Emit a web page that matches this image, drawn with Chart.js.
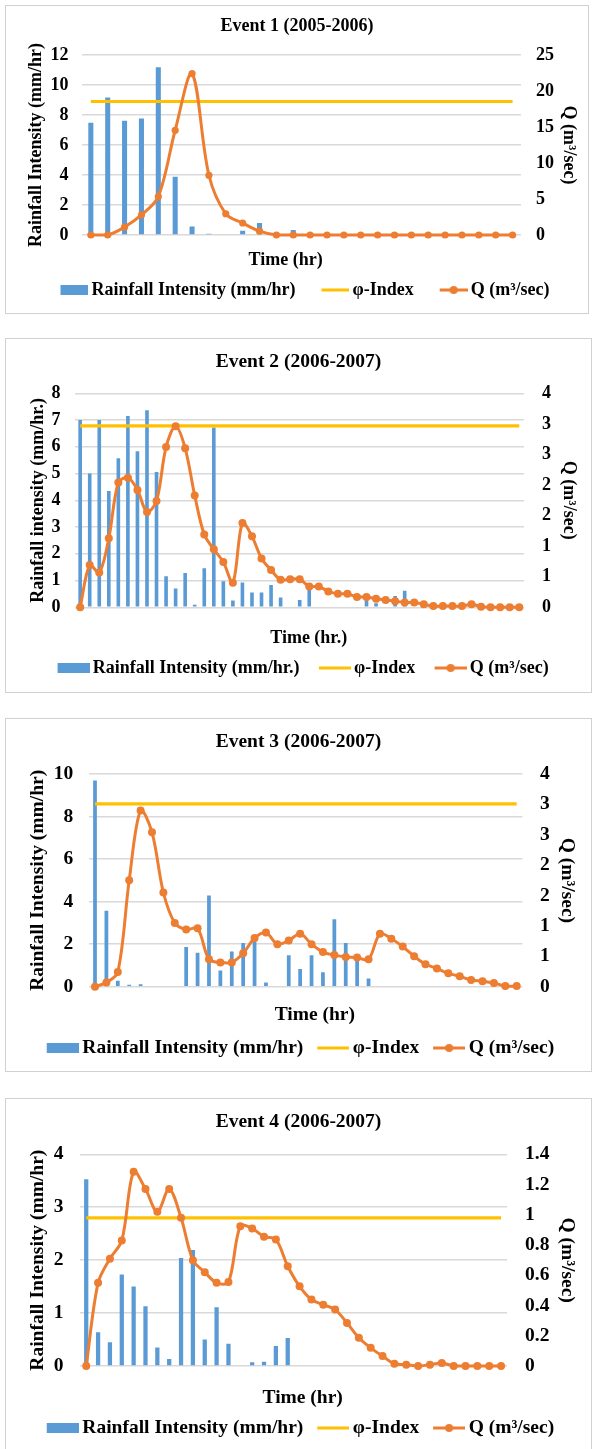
<!DOCTYPE html>
<html>
<head>
<meta charset="utf-8">
<script src="https://cdn.jsdelivr.net/npm/chart.js@4.4.1/dist/chart.umd.min.js"></script>
<style>
html,body{margin:0;padding:0;background:#fff;}
body{width:593px;height:1449px;position:relative;overflow:hidden;}
.panel{position:absolute;border:1px solid #d0d0d0;background:#fff;}
canvas{display:block;}
</style>
</head>
<body>
<div class="panel" style="left:5px;top:5px;"><canvas id="c1" width="582" height="307"></canvas></div>
<div class="panel" style="left:5px;top:338px;"><canvas id="c2" width="585" height="353"></canvas></div>
<div class="panel" style="left:5px;top:718px;"><canvas id="c3" width="585" height="352"></canvas></div>
<div class="panel" style="left:5px;top:1098px;"><canvas id="c4" width="585" height="352"></canvas></div>
<script>
// ---------------- DATA ----------------
// Event 1 (2005-2006)
const rain1 = [7.48, 9.17, 7.62, 7.77, 11.18, 3.88, 0.57, 0.08, 0, 0.28, 0.8, 0, 0.33, 0, 0, 0, 0, 0, 0, 0, 0, 0, 0, 0, 0, 0];
const q1    = [0, 0, 1.1, 2.78, 5.33, 14.55, 22.4, 8.3, 2.95, 1.67, 0.53, 0, 0, 0, 0, 0, 0, 0, 0, 0, 0, 0, 0, 0, 0, 0];
const phi1  = 8.9;
const ticksL1 = ['0', '2', '4', '6', '8', '10', '12'];
const ticksR1 = ['0', '5', '10', '15', '20', '25'];

// Event 2 (2006-2007)
const rain2 = [7.0, 5.0, 7.0, 4.35, 5.57, 7.15, 5.83, 7.37, 5.06, 1.16, 0.7, 1.28, 0.1, 1.46, 6.72, 0.97, 0.25, 0.93, 0.55, 0.55, 0.83, 0.37, 0, 0.27, 0.9,
               0, 0, 0, 0, 0, 0.27, 0.15, 0, 0.42, 0.62, 0, 0, 0, 0, 0, 0, 0, 0, 0, 0, 0, 0];
const q2    = [0, 0.69, 0.57, 1.13, 2.04, 2.12, 1.92, 1.56, 1.74, 2.62, 2.96, 2.6, 1.83, 1.19, 0.95, 0.74, 0.4, 1.38, 1.16, 0.8, 0.61, 0.45, 0.46, 0.46, 0.34,
               0.34, 0.26, 0.22, 0.22, 0.17, 0.17, 0.14, 0.12, 0.1, 0.08, 0.08, 0.05, 0.02, 0.02, 0.02, 0.02, 0.05, 0.01, 0, 0, 0, 0];
const phi2  = 6.78;
const ticksL2 = ['0', '1', '2', '3', '4', '5', '6', '7', '8'];
const ticksR2 = ['0', '1', '1', '2', '2', '3', '3', '4'];

// Event 3 (2006-2007)
const rain3 = [9.7, 3.57, 0.28, 0.09, 0.12, 0, 0, 0, 1.87, 1.6, 4.29, 0.76, 1.65, 2.06, 2.15, 0.2, 0, 1.48, 0.83, 1.48, 0.68, 3.17, 2.06, 1.4, 0.38,
               0, 0, 0, 0, 0, 0, 0, 0, 0, 0, 0, 0, 0];
const q3    = [0, 0.07, 0.24, 1.75, 2.9, 2.54, 1.55, 1.05, 0.94, 0.96, 0.45, 0.4, 0.4, 0.55, 0.8, 0.89, 0.7, 0.76, 0.87, 0.7, 0.57, 0.52, 0.49, 0.48, 0.45,
               0.87, 0.79, 0.66, 0.5, 0.37, 0.3, 0.22, 0.17, 0.11, 0.09, 0.06, 0.01, 0.01];
const phi3  = 8.6;
const ticksL3 = ['0', '2', '4', '6', '8', '10'];
const ticksR3 = ['0', '1', '1', '2', '2', '3', '3', '4'];

// Event 4 (2006-2007)
const rain4 = [3.53, 0.64, 0.45, 1.73, 1.5, 1.13, 0.35, 0.13, 2.04, 2.19, 0.5, 1.11, 0.42, 0, 0.07, 0.08, 0.38, 0.53,
               0, 0, 0, 0, 0, 0, 0, 0, 0, 0, 0, 0, 0, 0, 0, 0, 0, 0];
const q4    = [0, 0.55, 0.71, 0.83, 1.285, 1.17, 1.02, 1.17, 0.98, 0.7, 0.62, 0.55, 0.555, 0.925, 0.91, 0.855, 0.837, 0.66,
               0.527, 0.44, 0.405, 0.373, 0.285, 0.187, 0.12, 0.066, 0.015, 0.009, 0, 0.009, 0.02, 0, 0, 0, 0, 0];
const phi4  = 2.8;
const ticksL4 = ['0', '1', '2', '3', '4'];
const ticksR4 = ['0', '0.2', '0.4', '0.6', '0.8', '1', '1.2', '1.4'];

// axis ranges
const axisL1 = {max: 12, step: 2},  axisR1 = {max: 25, step: 5};
const axisL2 = {max: 8, step: 1},   axisR2 = {max: 3.5, step: 0.5};
const axisL3 = {max: 10, step: 2},  axisR3 = {max: 3.5, step: 0.5};
const axisL4 = {max: 4, step: 1},   axisR4 = {max: 1.4, step: 0.2};

// ---------------- STYLE ----------------
const FONT = "'Liberation Serif','Times New Roman',serif";
Chart.defaults.font.family = FONT;
Chart.defaults.font.weight = 'bold';
Chart.defaults.color = '#000';
const BLUE = '#5B9BD5', ORANGE = '#ED7D31', YELLOW = '#FFC000', GRID = '#d9d9d9';

const shiftXTitle = {
  id: 'shiftXTitle',
  afterLayout(chart, args, opts) {
    const s = chart.scales.x;
    if (s && !s.__shifted) {
      const orig = s.drawTitle;
      s.drawTitle = function () {
        const c = this.ctx; c.save(); c.translate(opts.dx || 0, 0); orig.call(this); c.restore();
      };
      s.__shifted = true;
    }
  }
};

function buildIcons(st) {
  const {w, G, g} = st.legend, fs = st.fs, pad = 10;
  const B = G - pad - fs / 2 + g + w;
  const Wi = Math.round(B + fs - 2 * g);
  const mk = (draw) => {
    const c = document.createElement('canvas'); c.width = Wi; c.height = 14;
    const x = c.getContext('2d'); draw(x, Wi - w, 7); return c;
  };
  return {
    B, pad,
    bar: mk((x, x0, cy) => { x.fillStyle = BLUE; x.fillRect(x0, cy - 5, w, 10); }),
    phi: mk((x, x0, cy) => { x.fillStyle = YELLOW; x.fillRect(x0, cy - 1.5, w, 3); }),
    q: mk((x, x0, cy) => {
      x.fillStyle = ORANGE; x.fillRect(x0, cy - 1.5, w, 3);
      x.beginPath(); x.arc(x0 + w / 2, cy, 4, 0, Math.PI * 2); x.fill();
    })
  };
}

function makeChart(p) {
  const st = p.st;
  const icons = buildIcons(st);
  const labels = p.rain.map((_, i) => i + 1);
  const phiData = labels.map(() => p.phi);
  new Chart(document.getElementById(p.id), {
    type: 'bar',
    data: {
      labels: labels,
      datasets: [
        {type: 'bar', label: p.rainLabel, data: p.rain, yAxisID: 'y', backgroundColor: BLUE, borderWidth: 0,
         categoryPercentage: 1, barPercentage: st.barPct, order: 3},
        {type: 'line', label: 'φ-Index', data: phiData, yAxisID: 'y', borderColor: YELLOW, backgroundColor: YELLOW,
         borderWidth: 3.2, pointRadius: 0, fill: false, tension: 0, order: 2},
        {type: 'line', label: 'Q (m³/sec)', data: p.q, yAxisID: 'y1', borderColor: ORANGE, backgroundColor: ORANGE,
         borderWidth: 3, pointRadius: st.pr, pointBorderWidth: 0, pointBackgroundColor: ORANGE, fill: false,
         tension: st.tension, clip: false, order: 1}
      ]
    },
    plugins: [shiftXTitle],
    options: {
      responsive: false,
      animation: false,
      events: [],
      layout: {padding: {top: 0, left: 0, right: 0, bottom: st.lpb}},
      plugins: {
        shiftXTitle: {dx: st.xShift},
        tooltip: {enabled: false},
        title: {display: true, text: p.title, color: '#000', font: {size: st.tfs, weight: 'bold'},
                padding: {top: st.tPad[0], bottom: st.tPad[1]}},
        legend: {
          display: true, position: 'bottom',
          labels: {
            usePointStyle: true, pointStyleWidth: icons.B, padding: icons.pad,
            color: '#000', font: {size: st.fs, weight: 'bold'},
            generateLabels: () => [
              {text: p.rainLabel, pointStyle: icons.bar, fillStyle: BLUE, strokeStyle: BLUE, lineWidth: 0, hidden: false, datasetIndex: 0, fontColor: '#000'},
              {text: 'φ-Index', pointStyle: icons.phi, fillStyle: YELLOW, strokeStyle: YELLOW, lineWidth: 0, hidden: false, datasetIndex: 1, fontColor: '#000'},
              {text: 'Q (m³/sec)', pointStyle: icons.q, fillStyle: ORANGE, strokeStyle: ORANGE, lineWidth: 0, hidden: false, datasetIndex: 2, fontColor: '#000'}
            ]
          }
        }
      },
      scales: {
        x: {
          type: 'category', offset: true,
          ticks: {display: false},
          grid: {display: false, drawTicks: false},
          border: {display: false},
          title: {display: true, text: p.xTitle, color: '#000', font: {size: st.fs, weight: 'bold'},
                  padding: {top: 0, bottom: st.xpb}},
          afterFit: (s) => { s.height = st.xH; }
        },
        y: {
          position: 'left', min: 0, max: p.left.max,
          ticks: {stepSize: p.left.step, padding: st.leftTickPad, color: '#000', font: {size: st.fs, weight: 'bold'},
                  callback: (v, i) => p.leftTicks[i]},
          grid: {color: GRID, lineWidth: 1.5, drawTicks: false},
          border: {display: false},
          title: {display: true, text: p.yTitle, color: '#000', font: {size: st.fs, weight: 'bold'},
                  padding: {top: st.leftTitlePad, bottom: 0}},
          afterFit: (s) => { s.width = st.leftW; }
        },
        y1: {
          position: 'right', min: 0, max: p.right.max,
          ticks: {stepSize: p.right.step, padding: st.rightTickPad, color: '#000', font: {size: st.fs, weight: 'bold'},
                  callback: (v, i) => p.rightTicks[i]},
          grid: {display: false, drawTicks: false},
          border: {display: false},
          title: {display: true, text: 'Q (m³/sec)', color: '#000', font: {size: st.fs, weight: 'bold'},
                  padding: {top: st.rightTitlePad, bottom: 0}},
          afterFit: (s) => { s.width = st.rightW; }
        }
      }
    }
  });
}

makeChart({
  id: 'c1', title: 'Event 1 (2005-2006)', xTitle: 'Time (hr)', yTitle: 'Rainfall Intensity (mm/hr)',
  rainLabel: 'Rainfall Intensity (mm/hr)', rain: rain1, q: q1, phi: phi1,
  left: axisL1, right: axisR1, leftTicks: ticksL1, rightTicks: ticksR1,
  st: {fs: 18, tfs: 18, tPad: [9.2, 18.2], lpb: 4, xH: 36, xpb: 0.2, xShift: -16,
       leftW: 76.4, leftTickPad: 14, leftTitlePad: 19.2, rightW: 67, rightTickPad: 15, rightTitlePad: 8.2,
       barPct: 0.3, tension: 0.33, pr: 3.6, legend: {w: 28, G: 26, g: 3}}
});
makeChart({
  id: 'c2', title: 'Event 2 (2006-2007)', xTitle: 'Time (hr.)', yTitle: 'Rainfall intensity (mm/hr.)',
  rainLabel: 'Rainfall Intensity (mm/hr.)', rain: rain2, q: q2, phi: phi2,
  left: axisL2, right: axisR2, leftTicks: ticksL2, rightTicks: ticksR2,
  st: {fs: 18, tfs: 19.5, tPad: [11.3, 19.6], lpb: 5, xH: 41.7, xpb: 0.2, xShift: 9,
       leftW: 69.4, leftTickPad: 15, leftTitlePad: 21.2, rightW: 67, rightTickPad: 18, rightTitlePad: 11.2,
       barPct: 0.38, tension: 0.33, pr: 4, legend: {w: 32, G: 19, g: 3.5}}
});
makeChart({
  id: 'c3', title: 'Event 3 (2006-2007)', xTitle: 'Time (hr)', yTitle: 'Rainfall Intensity (mm/hr)',
  rainLabel: 'Rainfall Intensity (mm/hr)', rain: rain3, q: q3, phi: phi3,
  left: axisL3, right: axisR3, leftTicks: ticksL3, rightTicks: ticksR3,
  st: {fs: 19.5, tfs: 19.5, tPad: [11.3, 20.3], lpb: 3.25, xH: 41.55, xpb: 1.55, xShift: 9,
       leftW: 83.3, leftTickPad: 16, leftTitlePad: 20.3, rightW: 68.6, rightTickPad: 17.6, rightTitlePad: 12.3,
       barPct: 0.33, tension: 0.33, pr: 4, legend: {w: 32, G: 14, g: 3.5}}
});
makeChart({
  id: 'c4', title: 'Event 4 (2006-2007)', xTitle: 'Time (hr)', yTitle: 'Rainfall Intensity (mm/hr)',
  rainLabel: 'Rainfall Intensity (mm/hr)', rain: rain4, q: q4, phi: phi4,
  left: axisL4, right: axisR4, leftTicks: ticksL4, rightTicks: ticksR4,
  st: {fs: 19.5, tfs: 19.5, tPad: [11.3, 20.6], lpb: 3.25, xH: 42.25, xpb: -1.5, xShift: 9,
       leftW: 74.3, leftTickPad: 16.8, leftTitlePad: 20.3, rightW: 84, rightTickPad: 18, rightTitlePad: 12.3,
       barPct: 0.36, tension: 0.33, pr: 4, legend: {w: 32, G: 14, g: 3.5}}
});
</script>
</body>
</html>
